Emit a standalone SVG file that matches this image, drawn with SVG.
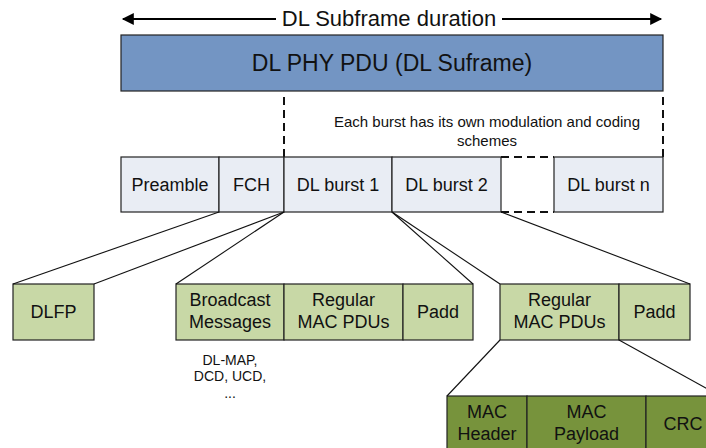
<svg xmlns="http://www.w3.org/2000/svg" width="706" height="448" viewBox="0 0 706 448">
<style>
text{font-family:"Liberation Sans",Arial,sans-serif;fill:#111;text-anchor:middle}
.t18{font-size:18px}
.t15{font-size:15px}
.t14{font-size:14px}
.row{fill:#e9edf4;stroke:#222;stroke-width:1.2}
.lg{fill:#c8d8a6;stroke:#222;stroke-width:1.2}
.dg{fill:#77933c;stroke:#222;stroke-width:1.2}
.ln{stroke:#111;stroke-width:1.1;fill:none}
.dash{stroke:#111;stroke-width:2;stroke-dasharray:8,5;fill:none}
</style>
<defs>
<marker id="ah" viewBox="0 0 10 10" refX="9" refY="5" markerWidth="7.5" markerHeight="6" orient="auto-start-reverse" markerUnits="strokeWidth">
<path d="M0,0 L10,5 L0,10 z" fill="#000"/>
</marker>
</defs>
<g id="duration">
<line x1="276" y1="19" x2="123" y2="19" stroke="#000" stroke-width="2" marker-end="url(#ah)"/>
<line x1="502" y1="19" x2="661" y2="19" stroke="#000" stroke-width="2" marker-end="url(#ah)"/>
<text x="389" y="26" style="font-size:22px">DL Subframe duration</text>
</g>
<g id="phy">
<rect x="121" y="35" width="542" height="56" fill="#7395c3" stroke="#222" stroke-width="1.2"/>
<text x="392" y="71" style="font-size:23px">DL PHY PDU (DL Suframe)</text>
</g>
<g id="note">
<line class="dash" x1="284" y1="97" x2="284" y2="157"/>
<line class="dash" x1="663" y1="97" x2="663" y2="157"/>
<text class="t15" x="487" y="127">Each burst has its own modulation and coding</text>
<text class="t15" x="487" y="146">schemes</text>
</g>
<g id="preamble"><rect class="row" x="121" y="157" width="98" height="55"/><text class="t18" x="170" y="191">Preamble</text></g>
<g id="fch"><rect class="row" x="219" y="157" width="65" height="55"/><text class="t18" x="251.5" y="191">FCH</text></g>
<g id="burst1"><rect class="row" x="284" y="157" width="108" height="55"/><text class="t18" x="338" y="191">DL burst 1</text></g>
<g id="burst2"><rect class="row" x="392" y="157" width="109" height="55"/><text class="t18" x="446.5" y="191">DL burst 2</text></g>
<g id="gap"><path class="dash" d="M501,157 H554 M501,212 H554"/></g>
<g id="burstn"><rect class="row" x="554" y="157" width="109" height="55"/><text class="t18" x="608.5" y="191">DL burst n</text></g>
<g id="dlfp"><rect class="lg" x="13" y="284" width="81" height="56"/><text class="t18" x="53.5" y="318">DLFP</text></g>
<g id="broadcast"><rect class="lg" x="176" y="284" width="108" height="56"/><text class="t18" x="230" y="306">Broadcast</text><text class="t18" x="230" y="328">Messages</text></g>
<g id="regular1"><rect class="lg" x="284" y="284" width="119" height="56"/><text class="t18" x="343.5" y="306">Regular</text><text class="t18" x="343.5" y="328">MAC PDUs</text></g>
<g id="padd1"><rect class="lg" x="403" y="284" width="70" height="56"/><text class="t18" x="438" y="318">Padd</text></g>
<g id="dlmap"><text class="t14" x="230" y="365">DL-MAP,</text><text class="t14" x="230" y="381">DCD, UCD,</text><text class="t14" x="230" y="398">...</text></g>
<g id="regular2"><rect class="lg" x="500" y="284" width="119" height="56"/><text class="t18" x="559.5" y="306">Regular</text><text class="t18" x="559.5" y="328">MAC PDUs</text></g>
<g id="padd2"><rect class="lg" x="619" y="284" width="71" height="56"/><text class="t18" x="654.5" y="318">Padd</text></g>
<g id="machdr"><rect class="dg" x="447" y="396" width="80" height="56"/><text class="t18" x="487" y="418">MAC</text><text class="t18" x="487" y="440">Header</text></g>
<g id="macpay"><rect class="dg" x="527" y="396" width="119" height="56"/><text class="t18" x="586.5" y="418">MAC</text><text class="t18" x="586.5" y="440">Payload</text></g>
<g id="crc"><rect class="dg" x="646" y="396" width="74" height="56"/><text class="t18" x="683" y="430">CRC</text></g>
<g id="connectors">
<line class="ln" x1="219" y1="212" x2="13" y2="284"/>
<line class="ln" x1="284" y1="212" x2="94" y2="284"/>
<line class="ln" x1="284" y1="212" x2="176" y2="284"/>
<line class="ln" x1="392" y1="212" x2="473" y2="284"/>
<line class="ln" x1="392" y1="212" x2="500" y2="284"/>
<line class="ln" x1="501" y1="212" x2="690" y2="284"/>
<line class="ln" x1="500" y1="340" x2="447" y2="396"/>
<line class="ln" x1="619" y1="340" x2="720" y2="396"/>
</g>
</svg>
